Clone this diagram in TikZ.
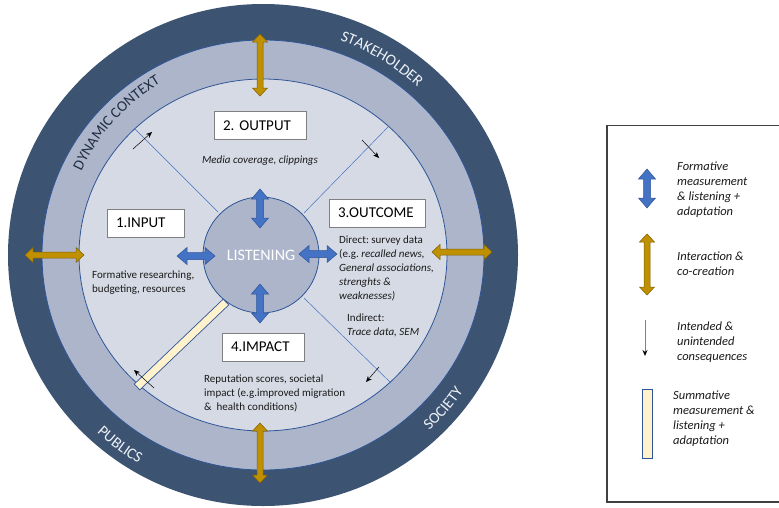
\documentclass[tikz,border=0pt]{standalone}
\usepackage{fontspec}
\setmainfont{Carlito}
\frenchspacing
\usetikzlibrary{decorations.text, arrows.meta}

\definecolor{ringdark}{HTML}{3C5472}
\definecolor{ringmid}{HTML}{ADB5CB}
\definecolor{ringin}{HTML}{D6DAE4}
\definecolor{edgeblue}{HTML}{2F5597}
\definecolor{lineblue}{HTML}{4472C4}
\definecolor{arrblue}{HTML}{4472C4}
\definecolor{arrblueedge}{HTML}{2F5597}
\definecolor{arrgold}{HTML}{BF9000}
\definecolor{arrgoldedge}{HTML}{7F6000}
\definecolor{barfill}{HTML}{FFF2CC}
\definecolor{boxgray}{HTML}{7F7F7F}
\definecolor{ringtext}{HTML}{EEF1F7}
\definecolor{ctxtext}{HTML}{1F2D45}
\definecolor{bodytext}{HTML}{1A1A1A}
\definecolor{framegray}{HTML}{404040}

% vertical double arrow: style, x, top y, bottom y, shaft half-width, head half-width, head length
\newcommand{\vdarr}[7]{%
  \filldraw[#1] (#2,#3) -- ({#2+#6},{#3-#7}) -- ({#2+#5},{#3-#7}) -- ({#2+#5},{#4+#7})
    -- ({#2+#6},{#4+#7}) -- (#2,#4) -- ({#2-#6},{#4+#7}) -- ({#2-#5},{#4+#7})
    -- ({#2-#5},{#3-#7}) -- ({#2-#6},{#3-#7}) -- cycle;}
% horizontal double arrow: style, y, left x, right x, shaft half-width, head half-width, head length
\newcommand{\hdarr}[7]{%
  \filldraw[#1] (#3,#2) -- ({#3+#7},{#2+#6}) -- ({#3+#7},{#2+#5}) -- ({#4-#7},{#2+#5})
    -- ({#4-#7},{#2+#6}) -- (#4,#2) -- ({#4-#7},{#2-#6}) -- ({#4-#7},{#2-#5})
    -- ({#3+#7},{#2-#5}) -- ({#3+#7},{#2-#6}) -- cycle;}

\tikzset{
  labelbox/.style={draw=boxgray, fill=white, line width=0.7pt, minimum height=28pt,
    inner xsep=9pt, align=left, text=black, font=\fontsize{15}{18}\selectfont},
  bodytxt/.style={inner sep=0pt, anchor=north west, align=left, text=bodytext,
    font=\fontsize{11}{14}\selectfont},
  legendtxt/.style={inner sep=0pt, anchor=north west, align=left, text=bodytext,
    font=\fontsize{12.5}{15}\selectfont\itshape},
  blueah/.style={fill=arrblue, draw=arrblueedge, line width=0.5pt, line join=miter},
  goldah/.style={fill=arrgold, draw=arrgoldedge, line width=0.5pt, line join=miter},
  divider/.style={draw=lineblue, line width=0.5pt},
  flowarrow/.style={draw=black, line width=0.5pt, -{Stealth[length=6pt,width=5pt]}},
  ringlabel/.style={decorate, decoration={text along path, text align=center}},
}

\begin{document}
\begin{tikzpicture}[x=1pt, y=1pt]
  \useasboundingbox (0,-507) rectangle (779,0);
  \fill[white] (0,-507) rectangle (779,0);

  \coordinate (C) at (263,-255);

  % concentric rings
  \fill[ringdark] (C) ellipse [x radius=255, y radius=251];
  \filldraw[fill=ringmid, draw=edgeblue, line width=0.8pt] (C) ellipse [x radius=221, y radius=215];
  \filldraw[fill=ringin, draw=edgeblue, line width=0.8pt] (C) ellipse [x radius=184, y radius=176];

  % ring labels
  \path[ringlabel, decoration={text={|\fontsize{15.5}{18}\selectfont\color{ringtext}|STAKEHOLDER}}]
    ([shift={(98.8:228)}]C) arc[start angle=98.8, end angle=18.8, radius=228];
  \path[ringlabel, decoration={text={|\fontsize{15}{18}\selectfont\color{ctxtext}|DYNAMIC CONTEXT}}]
    ([shift={(178:200)}]C) arc[start angle=178, end angle=98, radius=200];
  \path[ringlabel, decoration={text={|\fontsize{15.5}{18}\selectfont\color{ringtext}|SOCIETY}}]
    ([shift={(-80.4:242)}]C) arc[start angle=-80.4, end angle=-0.4, radius=242];
  \path[ringlabel, decoration={text={|\fontsize{15.5}{18}\selectfont\color{ringtext}|PUBLICS}}]
    ([shift={(-167:243)}]C) arc[start angle=-167, end angle=-87, radius=243];

  % dividers between the four stages
  \coordinate (nwin) at (218,-212);  \coordinate (nwout) at (135,-129);
  \coordinate (nein) at (304,-213);  \coordinate (neout) at (388,-127);
  \coordinate (sein) at (304,-298);  \coordinate (seout) at (391,-383);
  \draw[divider] (nwin) -- (nwout);
  \draw[divider] (nein) -- (neout);
  \draw[divider] (sein) -- (seout);

  % summative bar
  \node[draw=edgeblue, fill=barfill, line width=0.7pt, minimum width=123pt, minimum height=8pt,
        inner sep=0pt, rotate=43.7] (sumbar) at (181.5,-344.5) {};

  % consequence arrows crossing the dividers
  \coordinate (q1a) at (133,-149); \coordinate (q1b) at (152,-132);
  \coordinate (q2a) at (362,-140); \coordinate (q2b) at (379,-158);
  \coordinate (q3a) at (379,-367); \coordinate (q3b) at (366,-382);
  \coordinate (q4a) at (154,-388); \coordinate (q4b) at (134,-370);
  \draw[flowarrow] (q1a) -- (q1b);
  \draw[flowarrow] (q2a) -- (q2b);
  \draw[flowarrow] (q3a) -- (q3b);
  \draw[flowarrow] (q4a) -- (q4b);

  % central circle
  \node[circle, fill=ringmid, draw=edgeblue, line width=0.8pt, minimum size=116pt, inner sep=0pt,
        text=white, font=\fontsize{16}{18}\selectfont] (listen) at (261,-255) {LISTENING};

  % formative arrows around the centre
  \vdarr{blueah}{260}{-189}{-228}{3.5}{8.5}{10}
  \vdarr{blueah}{260}{-284}{-323}{3.5}{8.5}{10}
  \hdarr{blueah}{-256}{177}{215}{3.5}{8.5}{10}
  \hdarr{blueah}{-254}{299}{337}{3.5}{8.5}{10}

  % interaction arrows across the rings
  \vdarr{goldah}{260}{-34}{-96}{3}{7.5}{8}
  \vdarr{goldah}{260}{-423}{-483}{3}{7.5}{8}
  \hdarr{goldah}{-255}{25}{84}{3}{7.5}{8}
  \hdarr{goldah}{-252}{432}{492}{3}{7.5}{8}

  % stage boxes
  \node[labelbox, text width=74pt] (output) at (260,-125.5) {2. OUTPUT};
  \node[labelbox, text width=59pt] (input) at (145.5,-223) {1.INPUT};
  \node[labelbox, text width=78pt] (outcome) at (377,-213) {3.OUTCOME};
  \node[labelbox, text width=64pt] (impact) at (263,-347) {4.IMPACT};

  % stage descriptions
  \node[bodytxt, anchor=center, font=\fontsize{11}{14}\selectfont\itshape] (outtxt) at (260,-161)
    {Media coverage, clippings};
  \node[bodytxt] (intxt) at (92,-270.5) {Formative researching,\\budgeting, resources};
  \node[bodytxt] (outctxt) at (339,-235.5)
    {Direct: survey data\\(e.g. \textit{recalled news,}\\\textit{General associations,}\\
     \textit{strenghts \&}\\\textit{weaknesses)}};
  \node[bodytxt] (indtxt) at (347,-313.5) {Indirect:\\\textit{Trace data, SEM}};
  \node[bodytxt] (imptxt) at (204,-374.5)
    {Reputation scores, societal\\impact (e.g.improved migration\\\&\ \ health conditions)};

  % legend
  \draw[framegray, line width=1.1pt] (607,-125.5) rectangle (782,-502);
  \vdarr{blueah}{647}{-169}{-208}{3.5}{8.5}{10}
  \node[legendtxt] (lg1) at (677,-161.5) {Formative\\measurement\\\& listening +\\adaptation};
  \vdarr{goldah}{647}{-234}{-295}{3}{7.5}{8}
  \node[legendtxt] (lg2) at (677,-251.5) {Interaction \&\\co-creation};
  \coordinate (lga) at (645,-320);
  \coordinate (lgb) at (645,-356);
  \draw[draw=gray, line width=0.8pt, -{Stealth[black,length=6pt,width=5pt]}] (lga) -- (lgb);
  \node[legendtxt] (lg3) at (677,-321.5) {Intended \&\\unintended\\consequences};
  \node[draw=edgeblue, fill=barfill, line width=0.8pt, minimum width=10pt, minimum height=69pt,
        inner sep=0pt] (lgbar) at (647,-423.5) {};
  \node[legendtxt] (lg4) at (673,-390.5) {Summative\\measurement \&\\listening +\\adaptation};
\end{tikzpicture}
\end{document}
